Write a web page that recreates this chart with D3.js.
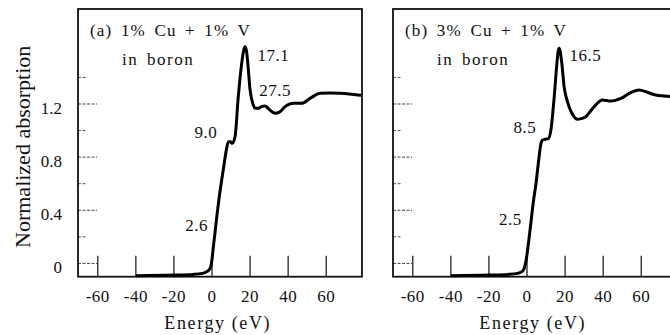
<!DOCTYPE html>
<html>
<head>
<meta charset="utf-8">
<script src="https://cdn.jsdelivr.net/npm/d3@7"></script>
<style>
  body { margin: 0; background: #fff; }
  svg text { font-family: "Liberation Serif", "DejaVu Serif", serif; fill: #111; }
</style>
</head>
<body>
<script>
// panel (a): 1% Cu + 1% V in boron
var energyA = [-40, -20, -10, -5, -2.5, -1, 0, 0.7, 1.5, 2.5, 3.8, 5.1, 6.5, 7.6, 8.6, 9.6, 10.7, 12.1, 13.8, 15.6, 16.6, 17.3, 18.1, 18.8, 20, 21.7, 22.6, 24.3, 26, 27.8, 30, 33.1, 35.5, 38.4, 42.7, 47.1, 51.5, 56.8, 62, 67.3, 72, 78.5];
var absA = [-0.092, -0.088, -0.083, -0.075, -0.06, -0.038, 0.03, 0.125, 0.22, 0.35, 0.5, 0.63, 0.76, 0.86, 0.916, 0.915, 0.904, 0.953, 1.255, 1.506, 1.6, 1.631, 1.6, 1.506, 1.306, 1.192, 1.167, 1.167, 1.18, 1.185, 1.16, 1.13, 1.14, 1.18, 1.205, 1.205, 1.242, 1.28, 1.283, 1.28, 1.275, 1.265];

// panel (b): 3% Cu + 1% V in boron
var energyB = [-40, -20, -10, -5, -2.5, -1.5, -0.5, 0.3, 1, 2, 3.3, 4.7, 6, 7.3, 8.1, 9.6, 11.3, 12.5, 14.3, 15.7, 16.3, 16.9, 17.5, 18.3, 19.5, 20.8, 22.1, 24, 26.5, 28.5, 30.9, 33, 35.3, 39.6, 44, 49.3, 54.5, 58.9, 63.2, 67.6, 72, 78.5];
var absB = [-0.092, -0.088, -0.083, -0.075, -0.06, -0.038, 0.02, 0.1, 0.18, 0.3, 0.46, 0.6, 0.76, 0.9, 0.928, 0.935, 0.94, 1.0, 1.255, 1.506, 1.59, 1.619, 1.59, 1.506, 1.33, 1.24, 1.18, 1.12, 1.085, 1.09, 1.104, 1.14, 1.18, 1.23, 1.222, 1.242, 1.285, 1.305, 1.288, 1.267, 1.26, 1.255];

var titlesA = ["(a) 1% Cu + 1% V", "in boron"];
var titlesB = ["(b) 3% Cu + 1% V", "in boron"];
var peaksA = ["2.6", "9.0", "17.1", "27.5"];
var peaksB = ["2.5", "8.5", "16.5"];

var xTicks = [-60, -40, -20, 0, 20, 40, 60];
var xTickLabels = ["-60", "-40", "-20", "0", "20", "40", "60"];
var yTicks = [0, 0.4, 0.8, 1.2];
var yTickLabels = ["0", "0.4", "0.8", "1.2"];
var yMinorTicks = [0.2, 0.6, 1.0, 1.4];

var xTitle = "Energy (eV)";
var yTitle = "Normalized absorption";

var serif = "'Liberation Serif', 'DejaVu Serif', serif";

var width = 670;
var height = 335;
var margins = { top: 9, bottom: 58.3 };
var panelW = 284;
var panelH = height - margins.top - margins.bottom;

var svg = d3.select("body").append("svg")
  .attr("width", width)
  .attr("height", height);

var xScale = d3.scaleLinear().domain([-70.4, 78.8]).range([0, panelW]);
var yScale = d3.scaleLinear().domain([-0.1, 1.915]).range([panelH, 0]);

// value of a curve at energy e (linear between read points)
var curveAt = function(es, vs, e) {
  var i = d3.bisectLeft(es, e);
  if (i <= 0) return vs[0];
  if (i >= es.length) return vs[vs.length - 1];
  var t = (e - es[i - 1]) / (es[i] - es[i - 1]);
  return vs[i - 1] + t * (vs[i] - vs[i - 1]);
};

var drawPanel = function(left, es, vs, titles, peaks, offsets, showYLabels) {
  var g = svg.append("g").attr("transform", "translate(" + left + "," + margins.top + ")");

  // y ticks, drawn inward, a bit broken like the print
  g.selectAll(".ymajor").data(yTicks).enter().append("line")
    .attr("x1", 0).attr("x2", 19)
    .attr("y1", function(d) { return yScale(d); })
    .attr("y2", function(d) { return yScale(d); })
    .attr("stroke", "#444").attr("stroke-width", 1)
    .attr("stroke-dasharray", "3,1.5");
  g.selectAll(".yminor").data(yMinorTicks).enter().append("line")
    .attr("x1", 0).attr("x2", 8)
    .attr("y1", function(d) { return yScale(d); })
    .attr("y2", function(d) { return yScale(d); })
    .attr("stroke", "#555").attr("stroke-width", 1)
    .attr("stroke-dasharray", "3,1.5");

  // x ticks: tall, pointing up from the bottom axis
  g.selectAll(".xtick").data(xTicks).enter().append("line")
    .attr("x1", function(d) { return xScale(d); })
    .attr("x2", function(d) { return xScale(d); })
    .attr("y1", panelH).attr("y2", panelH - 21)
    .attr("stroke", "#111").attr("stroke-width", 1.2);

  g.selectAll(".xlab").data(xTicks).enter().append("text")
    .attr("x", function(d) { return xScale(d); })
    .attr("y", panelH + 25)
    .attr("text-anchor", "middle")
    .attr("font-family", serif)
    .style("font-size", "17px")
    .style("letter-spacing", "0.5px")
    .text(function(d, i) { return xTickLabels[i]; });

  if (showYLabels) {
    g.selectAll(".ylab").data(yTicks).enter().append("text")
      .attr("x", -16)
      .attr("y", function(d) { return yScale(d) + 10; })
      .attr("text-anchor", "end")
      .attr("font-family", serif)
      .style("font-size", "17px")
      .text(function(d, i) { return yTickLabels[i]; });
  }

  // frame
  g.append("rect")
    .attr("x", 0).attr("y", 0)
    .attr("width", panelW).attr("height", panelH)
    .attr("fill", "none").attr("stroke", "#111").attr("stroke-width", 1.8);

  var line = d3.line()
    .x(function(d) { return xScale(d[0]); })
    .y(function(d) { return yScale(d[1]); })
    .curve(d3.curveMonotoneX);

  g.append("path")
    .datum(d3.zip(es, vs))
    .attr("d", line)
    .attr("fill", "none")
    .attr("stroke", "#000")
    .attr("stroke-width", 3)
    .attr("stroke-linejoin", "round");

  // sample label
  g.append("text")
    .attr("x", 12).attr("y", 27)
    .attr("font-family", serif)
    .style("font-size", "17px")
    .style("letter-spacing", "1.2px")
    .style("word-spacing", "3px")
    .text(titles[0]);
  g.append("text")
    .attr("x", 44).attr("y", 56)
    .attr("font-family", serif)
    .style("font-size", "17px")
    .style("letter-spacing", "1.5px")
    .style("word-spacing", "3px")
    .text(titles[1]);

  // peak energies placed next to the curve
  g.selectAll(".peak").data(peaks).enter().append("text")
    .attr("x", function(d, i) { return xScale(+d) + offsets[i][0]; })
    .attr("y", function(d) { return yScale(curveAt(es, vs, +d)); })
    .attr("dy", function(d, i) { return offsets[i][1]; })
    .attr("text-anchor", function(d, i) { return offsets[i][2]; })
    .attr("font-family", serif)
    .style("font-size", "17px")
    .style("letter-spacing", "0.5px")
    .text(function(d) { return d; });

  g.append("text")
    .attr("x", xScale(3))
    .attr("y", panelH + 52)
    .attr("text-anchor", "middle")
    .attr("font-family", serif)
    .style("font-size", "18px")
    .style("letter-spacing", "1.6px")
    .text(xTitle);

  return g;
};

var offsetsA = [[-9, 16, "end"], [-12, -4, "end"], [13, 13, "start"], [-5, -10, "start"]];
var offsetsB = [[-10, 10, "end"], [-7, -7, "end"], [11, 10, "start"]];

drawPanel(78, energyA, absA, titlesA, peaksA, offsetsA, true);
drawPanel(393, energyB, absB, titlesB, peaksB, offsetsB, false);

svg.append("text")
  .attr("transform", "translate(30," + (margins.top + panelH / 2 + 4) + ") rotate(-90)")
  .attr("text-anchor", "middle")
  .attr("font-family", serif)
  .style("font-size", "22px")
  .text(yTitle);
</script>
</body>
</html>
